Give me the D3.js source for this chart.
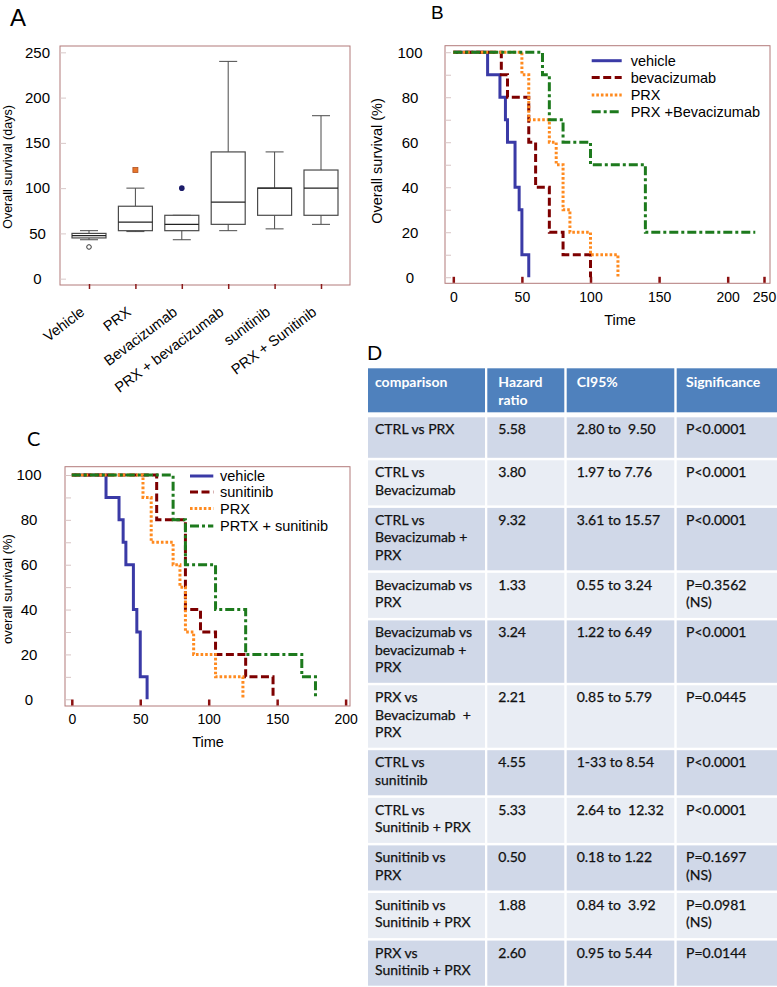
<!DOCTYPE html>
<html><head><meta charset="utf-8">
<script src="https://cdn.jsdelivr.net/npm/d3@7"></script>
<style>body{margin:0;background:#fff;} svg{display:block;}</style>
</head><body>
<script>
// ---------------- Panel A data (box plots) ----------------
const boxCategories = ["Vehicle", "PRX", "Bevacizumab", "PRX + bevacizumab", "sunitinib", "PRX + Sunitinib"];
const boxMin    = [43, 52, 43, 53, 55, 60];
const boxQ1     = [45, 53, 53, 60, 70, 70];
const boxMedian = [47.5, 62.5, 60, 84.5, 100, 100];
const boxQ3     = [50, 80, 70, 140, 100, 120];
const boxMax    = [53, 100, 70, 240, 140, 180];
const boxOutliers = [[35], [120], [100], [], [], []];
const aYTicks = [0, 50, 100, 150, 200, 250];

// ---------------- Panel B data (Kaplan-Meier) ----------------
const bSeries = ["vehicle", "bevacizumab", "PRX", "PRX +Bevacizumab"];
const bTimesVehicle = [0, 25, 34, 38, 39.5, 45, 48, 50, 55];
const bSurvVehicle  = [100, 90, 80, 70, 60, 40, 30, 10, 0];
const bTimesBev = [0, 35, 39.5, 55, 60, 70, 80, 100];
const bSurvBev  = [100, 90, 80, 60, 40, 20, 10, 0];
const bTimesPRX = [0, 50, 55, 70, 75, 80, 85, 100, 120];
const bSurvPRX  = [100, 90, 70, 60, 50, 30, 20, 10, 0];
const bTimesCombo = [0, 65, 70, 80, 100, 140, 238];
const bSurvCombo  = [100, 90, 70, 60, 50, 20, 20];
const bXTicks = [0, 50, 100, 150, 200, 250];

// ---------------- Panel C data (Kaplan-Meier) ----------------
const cSeries = ["vehicle", "sunitinib", "PRX", "PRTX + sunitinib"];
const cTimesVehicle = [0, 25, 34.5, 37.5, 39.5, 45, 47.5, 50, 55];
const cSurvVehicle  = [100, 90, 80, 70, 60, 40, 30, 10, 0];
const cTimesSun = [0, 62, 83, 94, 105, 127, 147];
const cSurvSun  = [100, 80, 40, 30, 20, 10, 0];
const cTimesPRX = [0, 52, 58, 74, 79, 83, 89, 105, 125];
const cSurvPRX  = [100, 90, 70, 60, 50, 30, 20, 10, 0];
const cTimesCombo = [0, 74, 83, 105, 127, 168, 178];
const cSurvCombo  = [100, 80, 60, 40, 20, 10, 0];
const cXTicks = [0, 50, 100, 150, 200];

// ---------------- Panel D data (table) ----------------
const tableHeaders = [["comparison"], ["Hazard", "ratio"], ["CI95%"], ["Significance"]];
const comparisons = [["CTRL vs PRX"], ["CTRL vs", "Bevacizumab"], ["CTRL vs", "Bevacizumab +", "PRX"],
  ["Bevacizumab vs", "PRX"], ["Bevacizumab vs", "bevacizumab +", "PRX"], ["PRX vs", "Bevacizumab  +", "PRX"],
  ["CTRL vs", "sunitinib"], ["CTRL vs", "Sunitinib + PRX"], ["Sunitinib vs", "PRX"],
  ["Sunitinib vs", "Sunitinib + PRX"], ["PRX vs", "Sunitinib + PRX"]];
const hazardRatios = ["5.58", "3.80", "9.32", "1.33", "3.24", "2.21", "4.55", "5.33", "0.50", "1.88", "2.60"];
const ci95 = ["2.80 to  9.50", "1.97 to 7.76", "3.61 to 15.57", "0.55 to 3.24", "1.22 to 6.49", "0.85 to 5.79",
  "1-33 to 8.54", "2.64 to  12.32", "0.18 to 1.22", "0.84 to  3.92", "0.95 to 5.44"];
const significance = [["P<0.0001"], ["P<0.0001"], ["P<0.0001"], ["P=0.3562", "(NS)"], ["P<0.0001"], ["P=0.0445"],
  ["P<0.0001"], ["P<0.0001"], ["P=0.1697", "(NS)"], ["P=0.0981", "(NS)"], ["P=0.0144"]];

// ---------------- drawing ----------------
const ARIAL = "'Liberation Sans', Arial, sans-serif";
const CAL = "Lato, 'Open Sans', sans-serif";
const FRAME = "#b27a7a";
const svg = d3.select("body").append("svg").attr("width", 777).attr("height", 987)
  .style("font-family", ARIAL);
svg.append("rect").attr("width", 777).attr("height", 987).attr("fill", "#fff");

function panelLabel(t, x, y, size, font) {
  svg.append("text").attr("x", x).attr("y", y).attr("font-size", size).attr("font-family", font).text(t);
}
panelLabel("A", 10, 26, 24, ARIAL);
panelLabel("B", 431, 18.5, 19, ARIAL);
panelLabel("C", 27, 446, 20, CAL);
panelLabel("D", 367, 360, 20, CAL);

// ===== Panel A =====
{
  const L = 60, R = 350, T = 46, B = 285;
  const y = d3.scaleLinear().domain([-7, 257]).range([B, T]);
  const x = d3.scalePoint().domain(boxCategories).range([L, R]).padding(0.625);
  const g = svg.append("g");
  g.append("rect").attr("x", L).attr("y", T).attr("width", R - L).attr("height", B - T)
    .attr("fill", "none").attr("stroke", FRAME).attr("stroke-width", 1);
  const ya = g.append("g").attr("transform", `translate(${L},0)`)
    .call(d3.axisLeft(y).tickValues(aYTicks).tickSizeInner(-6).tickSizeOuter(0).tickPadding(18));
  ya.select(".domain").remove();
  ya.selectAll("line").attr("stroke", "#d8c8c8");
  ya.selectAll("text").attr("text-anchor", "middle").attr("x", -22.5).attr("font-size", 15)
    .attr("font-family", ARIAL).attr("fill", "#000");
  const xa = g.append("g").attr("transform", `translate(0,${B - 1})`)
    .call(d3.axisBottom(x).tickSizeInner(5).tickSizeOuter(0));
  xa.select(".domain").remove();
  xa.selectAll("line").attr("stroke", "#8b1a1a").attr("stroke-width", 1.5);
  xa.selectAll("text").attr("x", 0).attr("y", 0).attr("dy", 0).attr("text-anchor", "end")
    .attr("transform", "translate(-4,30) rotate(-37)").attr("font-size", 14.5)
    .attr("font-family", ARIAL).attr("fill", "#000");
  g.append("text").attr("transform", "translate(12,167) rotate(-90)").attr("text-anchor", "middle")
    .attr("font-size", 12.5).text("Overall survival (days)");

  const bw = 34, cw = 18;
  boxCategories.forEach((c, i) => {
    const cx = x(c);
    const sc = "#4a4a4a";
    g.append("line").attr("x1", cx).attr("x2", cx).attr("y1", y(boxMax[i])).attr("y2", y(boxQ3[i]))
      .attr("stroke", sc).attr("stroke-width", 1);
    g.append("line").attr("x1", cx).attr("x2", cx).attr("y1", y(boxQ1[i])).attr("y2", y(boxMin[i]))
      .attr("stroke", sc).attr("stroke-width", 1);
    [boxMax[i], boxMin[i]].forEach(v => g.append("line").attr("x1", cx - cw / 2).attr("x2", cx + cw / 2)
      .attr("y1", y(v)).attr("y2", y(v)).attr("stroke", sc).attr("stroke-width", 1));
    g.append("rect").attr("x", cx - bw / 2).attr("width", bw).attr("y", y(boxQ3[i]))
      .attr("height", y(boxQ1[i]) - y(boxQ3[i])).attr("fill", "#fff")
      .attr("stroke", sc).attr("stroke-width", 1.2);
    g.append("line").attr("x1", cx - bw / 2).attr("x2", cx + bw / 2).attr("y1", y(boxMedian[i]))
      .attr("y2", y(boxMedian[i])).attr("stroke", "#222").attr("stroke-width", 1.2);
    boxOutliers[i].forEach(v => {
      if (i === 0) g.append("circle").attr("cx", cx).attr("cy", y(v)).attr("r", 2.3).attr("fill", "#fff").attr("stroke", "#333");
      else if (i === 1) g.append("rect").attr("x", cx - 2.5).attr("y", y(v) - 2.5).attr("width", 5).attr("height", 5)
        .attr("fill", "#e8762b").attr("stroke", "#b05020").attr("stroke-width", 0.8);
      else g.append("circle").attr("cx", cx).attr("cy", y(v)).attr("r", 2.8).attr("fill", "#1c1c6a");
    });
  });
}

// ===== Kaplan-Meier helper =====
const kmStyles = [
  { color: "#3a3aa6", dash: null },
  { color: "#7d0000", dash: "8,3.5" },
  { color: "#ff8a1f", dash: "2.6,2" },
  { color: "#1d7a1d", dash: "9,3,3,3" }
];
function km(cfg) {
  const { L, R, T, B, x, y, series, names, xTicks, legend, yTitle, yTitleX, yTitleY, yTitleSize,
          timeX, timeY, labelCenterX } = cfg;
  const g = svg.append("g");
  g.append("rect").attr("x", L).attr("y", T).attr("width", R - L).attr("height", B - T)
    .attr("fill", "none").attr("stroke", FRAME).attr("stroke-width", 1);
  const ya = g.append("g").attr("transform", `translate(${L},0)`)
    .call(d3.axisLeft(y).tickValues(d3.range(0, 101, 10)).tickSizeInner(-6).tickSizeOuter(0)
      .tickFormat(d => d % 20 === 0 ? d : ""));
  ya.select(".domain").remove();
  ya.selectAll("line").attr("stroke", "#d8c4c4");
  ya.selectAll("text").attr("text-anchor", "middle").attr("x", labelCenterX - L).attr("font-size", 15)
    .attr("font-family", ARIAL).attr("fill", "#000");
  const xa = g.append("g").attr("transform", `translate(0,${B - 0.5})`)
    .call(d3.axisBottom(x).tickValues(xTicks).tickSizeInner(-6).tickSizeOuter(0).tickPadding(9));
  xa.select(".domain").remove();
  xa.selectAll("line").attr("stroke", "#8b1010").attr("stroke-width", 2.5);
  xa.selectAll("text").attr("font-size", 14).attr("font-family", ARIAL).attr("fill", "#000");
  g.append("text").attr("x", timeX).attr("y", timeY).attr("text-anchor", "middle").attr("font-size", 14.5).text("Time");
  g.append("text").attr("transform", `translate(${yTitleX},${yTitleY}) rotate(-90)`).attr("text-anchor", "middle")
    .attr("font-size", yTitleSize).text(yTitle);

  const line = d3.line().x(d => x(d[0])).y(d => y(d[1])).curve(d3.curveStepAfter);
  series.forEach((s, i) => {
    const pts = s[0].map((t, k) => [t, s[1][k]]);
    g.append("path").datum(pts).attr("d", line).attr("fill", "none")
      .attr("stroke", kmStyles[i].color).attr("stroke-width", 3)
      .attr("stroke-dasharray", kmStyles[i].dash);
  });
  names.forEach((n, i) => {
    const ly = legend.ys[i];
    g.append("line").attr("x1", legend.x1).attr("x2", legend.x2).attr("y1", ly).attr("y2", ly)
      .attr("stroke", kmStyles[i].color).attr("stroke-width", 3).attr("stroke-dasharray", kmStyles[i].dash);
    g.append("text").attr("x", legend.tx).attr("y", ly).attr("dy", "0.36em").attr("font-size", 14.5).text(n);
  });
}

// ===== Panel B =====
km({
  L: 445, R: 770, T: 45.7, B: 283.3,
  x: d3.scaleLinear().domain([0, 200, 250]).range([453.3, 727.7, 764]),
  y: d3.scaleLinear().domain([-2.7, 102.9]).range([283.3, 45.7]),
  series: [[bTimesVehicle, bSurvVehicle], [bTimesBev, bSurvBev], [bTimesPRX, bSurvPRX], [bTimesCombo, bSurvCombo]],
  names: bSeries, xTicks: bXTicks,
  legend: { x1: 591.7, x2: 621.7, tx: 630.7, ys: [60.7, 77.5, 95, 111.7] },
  yTitle: "Overall survival (%)", yTitleX: 382, yTitleY: 161, yTitleSize: 14.5,
  timeX: 620, timeY: 325, labelCenterX: 410
});

// ===== Panel C =====
km({
  L: 65, R: 350, T: 466.7, B: 706,
  x: d3.scaleLinear().domain([0, 200]).range([71.8, 345.6]),
  y: d3.scaleLinear().domain([-3, 103.7]).range([706, 466.7]),
  series: [[cTimesVehicle, cSurvVehicle], [cTimesSun, cSurvSun], [cTimesPRX, cSurvPRX], [cTimesCombo, cSurvCombo]],
  names: cSeries, xTicks: cXTicks,
  legend: { x1: 190, x2: 213.3, tx: 220, ys: [476, 492, 508.5, 526] },
  yTitle: "overall survival (%)", yTitleX: 12, yTitleY: 589, yTitleSize: 13,
  timeX: 208, timeY: 747, labelCenterX: 29
});

// ===== Panel D table =====
{
  const colX = [368, 487.3, 566.7, 676.7];
  const colW = [117, 77, 107.6, 100.3];
  const pad = [7, 11, 10, 9.3];
  const lineH = 17.3;
  const g = svg.append("g").style("font-family", CAL);
  const headTop = 368.3, headH = 44;
  tableHeaders.forEach((h, c) => {
    g.append("rect").attr("x", colX[c]).attr("y", headTop).attr("width", colW[c]).attr("height", headH).attr("fill", "#4f81bd");
    h.forEach((t, k) => g.append("text").attr("x", colX[c] + pad[c]).attr("y", headTop + 19 + k * lineH)
      .attr("fill", "#fff").attr("font-weight", "bold").attr("font-size", 14).text(t));
  });
  let top = headTop + headH + 5;
  comparisons.forEach((comp, r) => {
    const cells = [comp, [hazardRatios[r]], [ci95[r]], significance[r]];
    const n = d3.max(cells, c => c.length);
    const h = Math.max(40.5, 10.5 + lineH * n);
    cells.forEach((cell, c) => {
      g.append("rect").attr("x", colX[c]).attr("y", top).attr("width", colW[c]).attr("height", h)
        .attr("fill", r % 2 === 0 ? "#d0d8e8" : "#e9edf4");
      cell.forEach((t, k) => g.append("text").attr("x", colX[c] + pad[c]).attr("y", top + 17 + k * lineH)
        .attr("fill", "#111").attr("stroke", "#111").attr("stroke-width", 0.25)
        .attr("font-size", 14).style("white-space", "pre").text(t));
    });
    top += h + 2.5;
  });
}
</script>
</body></html>
